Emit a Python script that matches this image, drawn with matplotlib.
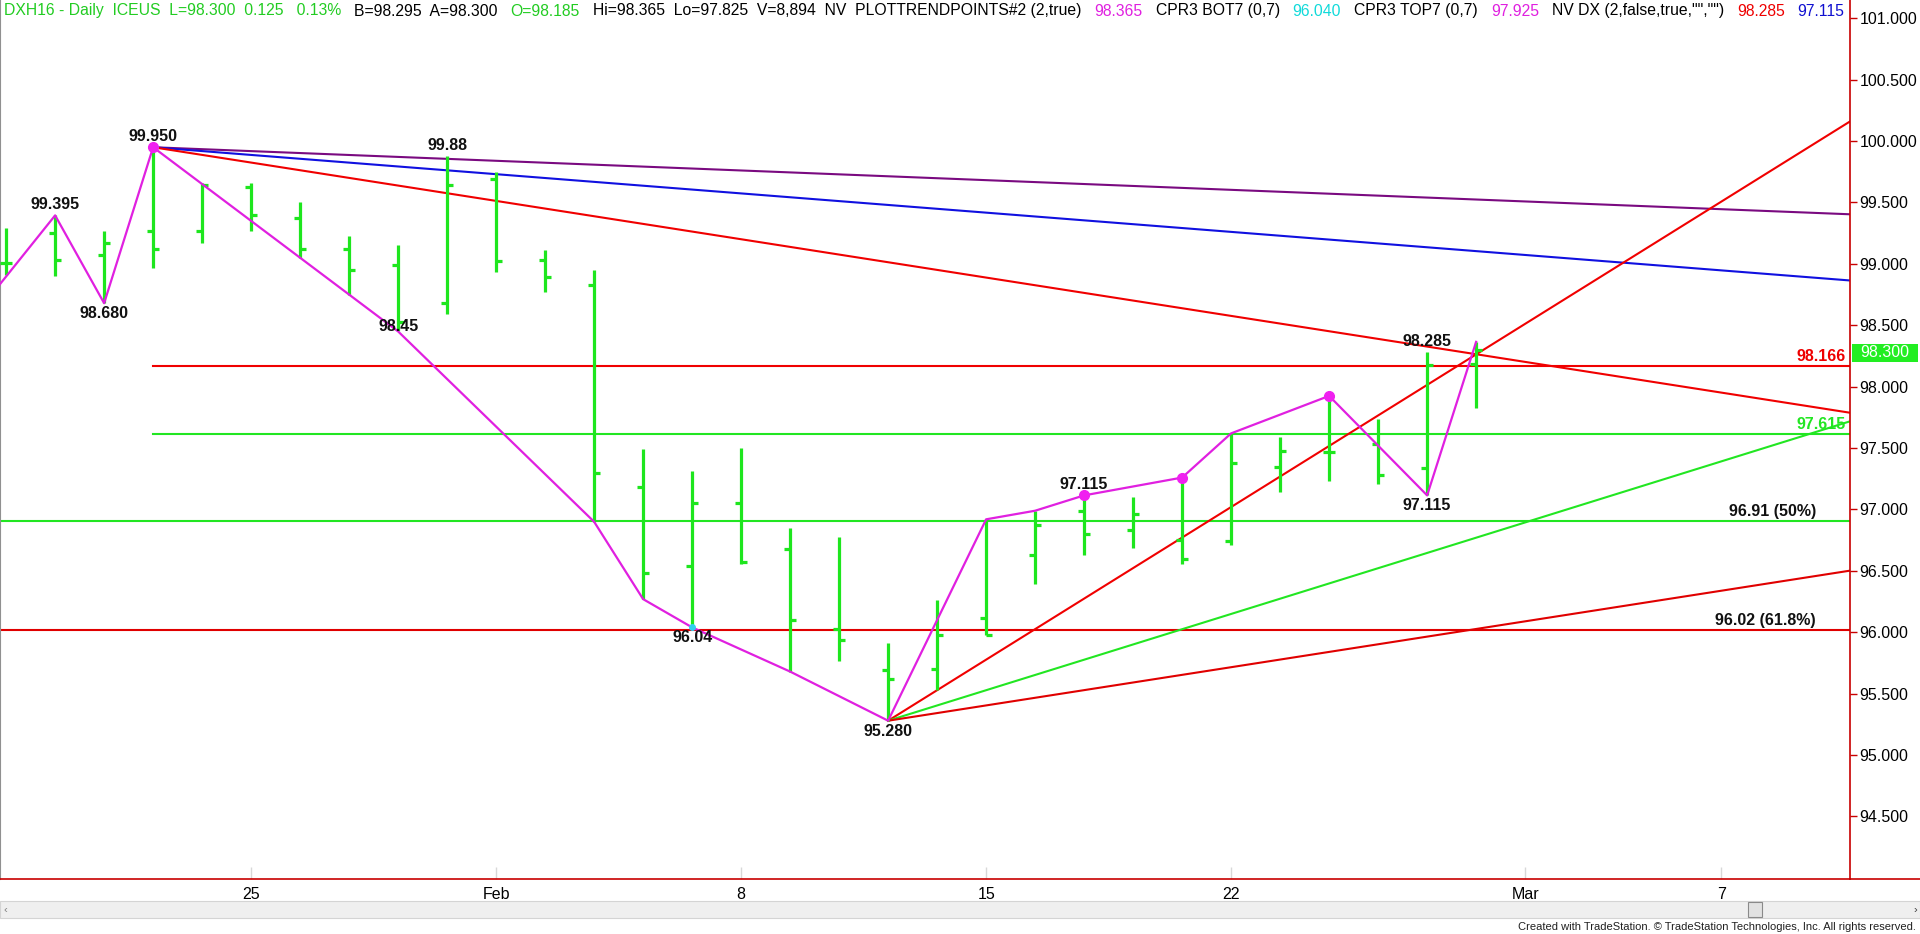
import numpy as np
import matplotlib
matplotlib.use("Agg")
import matplotlib.pyplot as plt
from matplotlib.patches import Rectangle
from matplotlib.lines import Line2D
import matplotlib.transforms as mtransforms

# ------------------------------------------------------------
# DXH16 daily bars (trading-day index 0 = Jan 18 2016)
# ------------------------------------------------------------
opens = [99.01, 99.25, 99.07, 99.27, 99.27, 99.63, 99.37, 99.12, 98.99, 98.68,
         99.69, 99.03, 98.83, 97.18, 96.54, 97.05, 96.68, 96.03, 95.69, 95.70,
         96.12, 96.63, 96.985, 96.83, 96.75, 96.74, 97.35, 97.47, 97.53, 97.34,
         98.185]
highs = [99.29, 99.395, 99.27, 99.95, 99.66, 99.66, 99.50, 99.23, 99.15, 99.88,
         99.75, 99.11, 98.95, 97.49, 97.31, 97.50, 96.85, 96.78, 95.91, 96.26,
         96.92, 96.99, 97.115, 97.10, 97.26, 97.62, 97.59, 97.925, 97.74, 98.285,
         98.365]
lows = [98.91, 98.90, 98.68, 98.97, 99.17, 99.27, 99.05, 98.75, 98.45, 98.59,
        98.93, 98.77, 96.90, 96.27, 96.04, 96.56, 95.68, 95.77, 95.28, 95.53,
        95.98, 96.39, 96.63, 96.69, 96.56, 96.71, 97.14, 97.23, 97.21, 97.115,
        97.825]
closes = [99.01, 99.03, 99.17, 99.12, 99.645, 99.40, 99.12, 98.95, 98.53, 99.645,
          99.02, 98.89, 97.30, 96.48, 97.05, 96.57, 96.10, 95.94, 95.62, 95.98,
          95.98, 96.87, 96.80, 96.96, 96.60, 97.38, 97.48, 97.47, 97.28, 98.18,
          98.30]

# trend points (zig-zag)
zz_x = [-1, 1, 2, 3, 8, 12, 13, 14, 16, 18, 20, 21, 22, 24, 25, 27, 29, 30]
zz_y = [98.40, 99.395, 98.68, 99.95, 98.45, 96.90, 96.27, 96.04, 95.68, 95.28,
        96.92, 96.99, 97.115, 97.26, 97.62, 97.925, 97.115, 98.365]
dot_x = [3, 22, 24, 27]
dot_y = [99.95, 97.115, 97.26, 97.925]

# swing labels
lab_x = [1, 2, 3, 8, 9, 14, 18, 22, 29, 29]
lab_y = [99.395, 98.68, 99.95, 98.45, 99.88, 96.04, 95.28, 97.115, 98.285, 97.115]
lab_txt = ["99.395", "98.680", "99.950", "98.45", "99.88", "96.04", "95.280",
           "97.115", "98.285", "97.115"]
lab_pos = ["up", "down", "up", "mid", "up", "down", "down", "up", "up", "down"]

# trend lines: start point and value at right edge
x_end = 37.63
down_x0, down_y0 = 3, 99.95
down_ends = [99.404, 98.865, 97.788]
down_cols = ["#7a0a80", "#1010e0", "#f00000"]
up_x0, up_y0 = 18, 95.28
up_ends = [100.16, 97.718, 96.502]
up_cols = ["#f00000", "#22e622", "#e00000"]

# horizontal levels
levels = [98.166, 97.615, 96.91, 96.02]
level_start = [3, 3, -0.125, -0.125]
level_cols = ["#f00000", "#22e622", "#22e622", "#e00000"]
level_txt = ["98.166", "97.615", "96.91 (50%)", "96.02 (61.8%)"]
level_txt_cols = ["#ee0000", "#22e622", "#111111", "#111111"]
level_txt_dx = [-4, -4, -34, -34]

date_pos = [5, 10, 15, 20, 25, 31, 35]
date_lab = ["25", "Feb", "8", "15", "22", "Mar", "7"]

header_txt = ["DXH16 - Daily  ICEUS  L=98.300  0.125   0.13%",
              "B=98.295  A=98.300",
              "O=98.185",
              "Hi=98.365  Lo=97.825  V=8,894  NV  PLOTTRENDPOINTS#2 (2,true)",
              "98.365", "CPR3 BOT7 (0,7)", "96.040", "CPR3 TOP7 (0,7)", "97.925",
              'NV DX (2,false,true,"","")', "98.285", "97.115"]
header_col = ["#22cc22", "black", "#22cc22", "black", "#e020e0", "black",
              "#10dada", "black", "#e020e0", "black", "#ee0000", "#1010d0"]

last_price = 98.300

# ------------------------------------------------------------
W, H = 1920, 934
plt.rcParams["font.family"] = ["Liberation Sans", "DejaVu Sans"]
narrow = ["Liberation Sans Narrow", "Liberation Sans", "DejaVu Sans"]

fig = plt.figure(figsize=(W / 100, H / 100), dpi=100)
fig.patch.set_facecolor("white")
ax = fig.add_axes([0, 55 / H, 1850 / W, 879 / H])
ax.set_xlim(-0.125, x_end)
ax.set_ylim(93.991, 101.149)

green = "#1ee61e"
idx = np.arange(len(opens))
ax.vlines(idx, lows, highs, color=green, lw=2.3, zorder=3)
ax.hlines(opens, idx - 0.13, idx, color=green, lw=2.3, zorder=3)
ax.hlines(closes, idx, idx + 0.13, color=green, lw=2.3, zorder=3)

# horizontal levels
for lv, xs, c in zip(levels, level_start, level_cols):
    ax.plot([xs, x_end], [lv, lv], color=c, lw=1.5, zorder=2)

# trend lines
for ye, c in zip(down_ends, down_cols):
    ax.plot([down_x0, x_end], [down_y0, ye], color=c, lw=1.5, zorder=2)
for ye, c in zip(up_ends, up_cols):
    ax.plot([up_x0, x_end], [up_y0, ye], color=c, lw=1.5, zorder=2)

# zig-zag
ax.plot(zz_x, zz_y, color="#e020e0", lw=1.6, zorder=4)
ax.plot(dot_x, dot_y, "o", color="#f020f0", ms=7, zorder=5)
ax.plot([14], [96.04], "o", color="#30d0f0", ms=4, zorder=5)

# swing labels
for x, y, s, p in zip(lab_x, lab_y, lab_txt, lab_pos):
    if p == "up":
        off, va = 3, "bottom"
    elif p == "down":
        off, va = -3, "top"
    else:
        off, va = 5, "center"
    ax.annotate(s, (x, y), xytext=(0, off), textcoords="offset pixels",
                ha="center", va=va, fontsize=11.5, fontweight="bold",
                color="#111111", zorder=6)

# level labels
for lv, s, c, dx in zip(levels, level_txt, level_txt_cols, level_txt_dx):
    ax.annotate(s, (x_end, lv), xytext=(dx, 2), textcoords="offset pixels",
                ha="right", va="bottom", fontsize=11.5, fontweight="bold",
                color=c, zorder=6)

# axes styling
axis_red = "#c80000"
ax.spines["top"].set_visible(False)
ax.spines["left"].set_color("#909090")
ax.spines["right"].set_color(axis_red)
ax.spines["bottom"].set_color(axis_red)
ax.spines["right"].set_linewidth(1.2)
ax.spines["bottom"].set_linewidth(1.2)

ax.yaxis.tick_right()
ax.set_yticks(np.arange(94.5, 101.01, 0.5))
ax.yaxis.set_major_formatter(matplotlib.ticker.FormatStrFormatter("%.3f"))
ax.tick_params(axis="y", length=5, width=1, color=axis_red, labelsize=11.5,
               pad=2, labelcolor="black")
ax.set_xticks(date_pos)
ax.set_xticklabels(date_lab, fontfamily=narrow, fontsize=11.5)
ax.tick_params(axis="x", direction="in", length=9, width=1, color="#d8d8d8",
               pad=6)

# bottom axis line continues under the price scale
fig.add_artist(Line2D([1850 / W, 1], [55 / H, 55 / H], color=axis_red, lw=1.2))

# last price tag
bt = mtransforms.blended_transform_factory(fig.transFigure, ax.transData)
bt = bt + mtransforms.ScaledTranslation(0, -3 / 100, fig.dpi_scale_trans)
fig.add_artist(Rectangle((1852 / W, last_price - 0.073), 66 / W, 0.146,
                         transform=bt, facecolor="#22ee22", edgecolor="none"))
fig.text(1885 / W, last_price, "%.3f" % last_price, transform=bt,
         ha="center", va="center", color="white", fontsize=11.5)

# scroll bar
fig.add_artist(Rectangle((0, (H - 918) / H), 1, 17 / H, transform=fig.transFigure,
                         facecolor="#efefef", edgecolor="#d4d4d4", lw=0.8))
fig.add_artist(Rectangle((1748 / W, (H - 917) / H), 14 / W, 15 / H,
                         transform=fig.transFigure, facecolor="#e2e2e2",
                         edgecolor="#8a8a8a", lw=0.8))
fig.text(4 / W, (H - 909.5) / H, "\u2039", fontsize=8, color="#808080", va="center")
fig.text(1913 / W, (H - 909.5) / H, "\u203a", fontsize=8, color="#404040", va="center")

fig.text(1916 / W, (H - 927) / H,
         "Created with TradeStation. \u00a9 TradeStation Technologies, Inc. All rights reserved.",
         ha="right", va="center", fontsize=8, fontfamily=narrow, color="#202020")

# header line, chunks laid out one after another
fig.canvas.draw()
rend = fig.canvas.get_renderer()
xpos = 4
for s, c in zip(header_txt, header_col):
    t = fig.text(xpos / W, (H - 11) / H, s, color=c, fontsize=11.3, va="center")
    bb = t.get_window_extent(renderer=rend)
    xpos = bb.x1 + 13

fig.savefig("out.png", dpi=100)
